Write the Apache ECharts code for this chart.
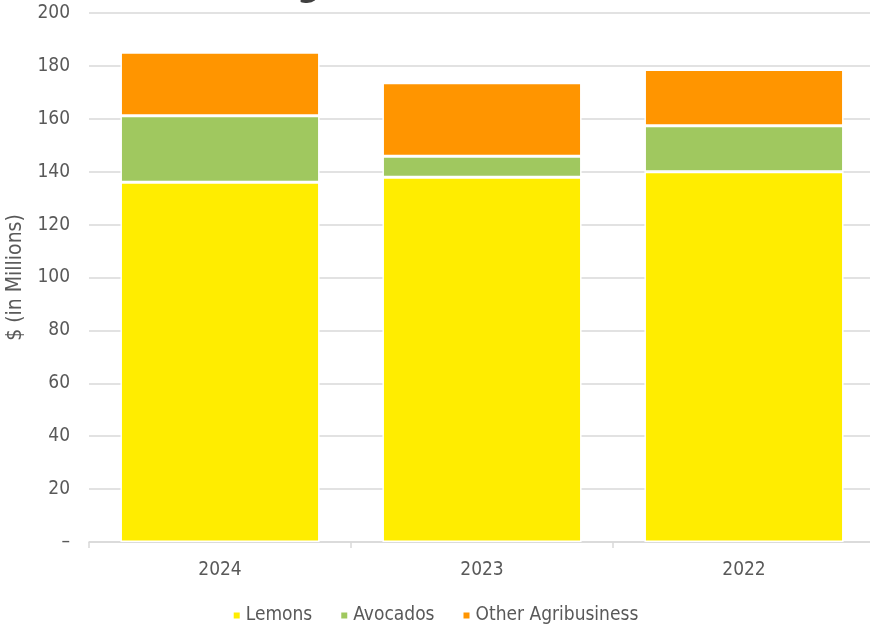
<!DOCTYPE html>
<html>
<head>
<meta charset="utf-8">
<script src="https://cdn.jsdelivr.net/npm/echarts@6/dist/echarts.min.js"></script>
<style>
  html, body { margin: 0; padding: 0; background: #fff; }
  #chart { width: 870px; height: 631px; }
</style>
</head>
<body>
<div id="chart"></div>
<script>
const years = ['2024', '2023', '2022'];
const lemons = [136.0, 137.9, 140.0];
const avocados = [25.2, 7.9, 17.4];
const otherAgri = [24.0, 27.8, 21.2];
const yTicks = [0, 20, 40, 60, 80, 100, 120, 140, 160, 180, 200];

const font = "'Liberation Sans Narrow', 'DejaVu Sans Condensed', sans-serif";
const textColor = '#595959';
const colors = ['#FFED00', '#A0C85F', '#FF9500'];

const chart = echarts.init(document.getElementById('chart'));

const barSeries = (name, data, color) => ({
  name,
  type: 'bar',
  stack: 'total',
  data,
  barWidth: '76%',
  itemStyle: { color, borderColor: '#fff', borderWidth: 1.5 },
});

chart.setOption({
  animation: false,
  color: colors,
  textStyle: { fontFamily: font },
  title: {
    text: 'Agribusiness',
    left: 267,
    top: -36,
    textStyle: { fontSize: 36, fontWeight: 'bold', color: '#404040', fontFamily: font },
  },
  grid: { left: 89, width: 786, top: 13, bottom: 89, outerBoundsMode: 'none', containLabel: false },
  legend: {
    bottom: 1,
    left: 'center',
    icon: 'rect',
    itemWidth: 8,
    itemHeight: 8,
    itemGap: 27,
    textStyle: { fontSize: 19, color: textColor, fontFamily: font },
    data: ['Lemons', 'Avocados', 'Other Agribusiness'],
  },
  xAxis: {
    type: 'category',
    data: years,
    axisLine: { lineStyle: { color: '#D9D9D9', width: 1.5 } },
    axisTick: { show: true, length: 6, lineStyle: { color: '#D9D9D9', width: 1.5 } },
    axisLabel: { fontSize: 19, color: textColor, margin: 19, fontFamily: font },
  },
  yAxis: {
    type: 'value',
    min: yTicks[0],
    max: yTicks[yTicks.length - 1],
    interval: 20,
    name: '$ (in Millions)',
    nameLocation: 'middle',
    nameGap: 59,
    nameTextStyle: { fontSize: 21, color: textColor, fontFamily: font },
    axisLine: { show: false },
    axisTick: { show: false },
    splitLine: { lineStyle: { color: '#D9D9D9', width: 1.5 } },
    axisLabel: {
      fontSize: 19,
      color: textColor,
      margin: 19,
      fontFamily: font,
      formatter: (v) => (v === 0 ? '–' : String(v)),
    },
  },
  series: [
    barSeries('Lemons', lemons, colors[0]),
    barSeries('Avocados', avocados, colors[1]),
    barSeries('Other Agribusiness', otherAgri, colors[2]),
  ],
});
</script>
</body>
</html>
